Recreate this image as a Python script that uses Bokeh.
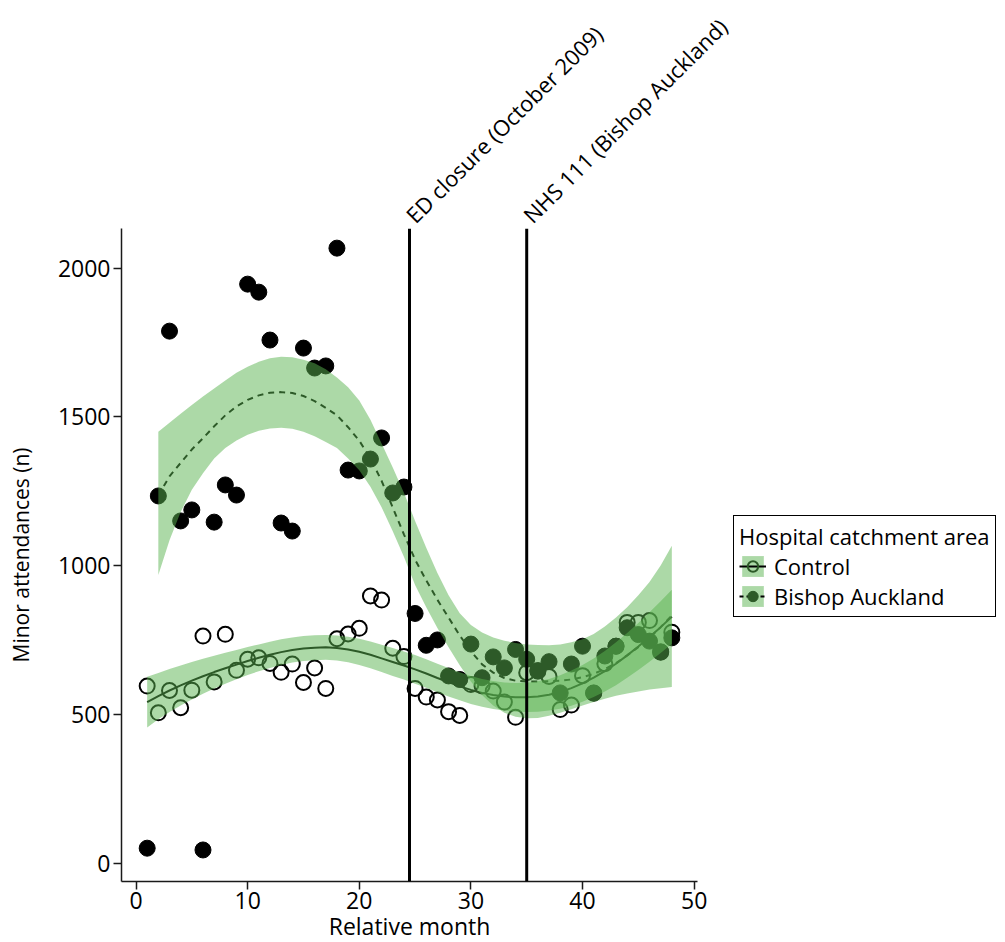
import math
from bokeh.plotting import figure
from bokeh.layouts import column
from bokeh.models import Range1d, Span, Label, Legend, LegendItem, FixedTicker
from bokeh.embed import file_html
from bokeh.resources import INLINE

FONT = "Open Sans"

# ---------------- data ----------------
months = list(range(1, 49))

control_obs = [595, 505, 580, 522, 581, 763, 609, 769, 648, 685, 690, 671,
               641, 669, 607, 656, 587, 754, 770, 789, 898, 884, 722, 694,
               587, 558, 548, 509, 496, 600, 595, 578, 541, 490, 640, 645,
               627, 516, 531, 630, 572, 670, 729, 809, 809, 815, 709, 776]

bishop_obs = [50, 1234, 1788, 1150, 1187, 44, 1146, 1271, 1237, 1946, 1919, 1758,
              1143, 1116, 1731, 1664, 1671, 2067, 1321, 1318, 1358, 1429, 1244, 1264,
              839, 732, 750, 629, 617, 736, 623, 693, 656, 718, 685, 647,
              677, 572, 669, 729, 571, 696, 729, 791, 768, 746, 710, 757]

# fitted curve and confidence band, control (months 1..48)
control_fit = [541, 561, 580, 597, 613, 628, 642, 655, 667, 679, 690, 700,
               709, 716, 721, 724, 725, 723, 718, 710, 700, 688, 676, 664,
               651, 637, 622, 608, 594, 582, 572, 565, 560, 557, 557, 560,
               566, 575, 588, 604, 623, 645, 670, 698, 728, 760, 793, 828]
control_lo = [456, 483, 508, 530, 550, 569, 587, 603, 618, 632, 645, 656,
              666, 674, 679, 682, 683, 681, 675, 666, 655, 642, 629, 617,
              603, 589, 574, 560, 547, 535, 525, 518, 513, 509, 508, 509,
              513, 519, 529, 542, 558, 577, 598, 623, 649, 677, 706, 737]
control_hi = [626, 639, 652, 664, 676, 687, 697, 707, 716, 726, 735, 744,
              752, 758, 763, 766, 767, 765, 761, 754, 745, 734, 723, 711,
              699, 685, 670, 656, 641, 629, 619, 612, 607, 605, 606, 611,
              619, 631, 647, 666, 688, 713, 742, 773, 807, 843, 880, 919]

# fitted curve and confidence band, Bishop Auckland (months 2..48)
bishop_months = list(range(2, 49))
bishop_fit = [1235, 1300, 1345, 1390, 1428, 1468, 1505, 1535, 1557, 1572, 1581,
              1583, 1580, 1570, 1553, 1530, 1505, 1465, 1420, 1360, 1285, 1195,
              1105, 1020, 950, 885, 825, 765, 712, 668, 640, 622, 613, 610,
              610, 611, 613, 617, 625, 636, 652, 672, 698, 726, 757, 793, 832]
bishop_lo = [968, 1085, 1180, 1255, 1310, 1360, 1395, 1420, 1440, 1453, 1461,
             1463, 1460, 1450, 1435, 1415, 1395, 1360, 1320, 1265, 1196, 1115,
             1030, 935, 860, 790, 725, 665, 610, 565, 530, 505, 492, 487,
             488, 495, 505, 517, 530, 541, 552, 562, 570, 577, 583, 588, 592]
bishop_hi = [1450, 1480, 1510, 1540, 1568, 1595, 1622, 1648, 1668, 1685, 1697,
             1702, 1700, 1692, 1680, 1660, 1632, 1599, 1555, 1490, 1410, 1330,
             1245, 1150, 1060, 975, 900, 840, 800, 775, 758, 747, 740, 735,
             733, 732, 735, 742, 752, 770, 795, 825, 860, 900, 945, 1000, 1067]

events = [24.5, 35]
event_labels = ["ED closure (October 2009)", "NHS 111 (Bishop Auckland)"]

x_ticks = [0, 10, 20, 30, 40, 50]
y_ticks = [0, 500, 1000, 1500, 2000]

# ---------------- styling ----------------
RIBBON = "#5ab450"
RIBBON_ALPHA = 0.5
DARK = "#2d5a28"

X0, X1 = -1.3, 50.3
FRAME_W, FRAME_H = 576, 653
LEFT, TOP, BOTTOM, RIGHT = 121, 228, 61, 308
PX_PER_UNIT = FRAME_W / (X1 - X0)

# ---- strip above the plot holding the rotated event labels ----
top_w = FRAME_W + RIGHT
top = figure(frame_width=top_w, frame_height=TOP,
             x_range=Range1d(X0, X0 + top_w / PX_PER_UNIT),
             y_range=Range1d(0, TOP),
             output_backend="svg", toolbar_location=None,
             x_axis_location=None, y_axis_location=None,
             min_border_left=LEFT, min_border_right=0,
             min_border_top=0, min_border_bottom=0)
top.outline_line_color = None
top.xgrid.visible = False
top.ygrid.visible = False
for ev, lab in zip(events, event_labels):
    top.add_layout(Label(x=ev, y=0, y_offset=10, text=lab, angle=math.pi / 4,
                         text_align="left", text_baseline="alphabetic",
                         text_font=FONT, text_font_size="22px",
                         text_color="black"))

# ---- main plot ----
p = figure(frame_width=FRAME_W, frame_height=FRAME_H,
           x_range=Range1d(X0, X1), y_range=Range1d(-62, 2133),
           output_backend="svg", toolbar_location=None,
           min_border_left=LEFT, min_border_top=0, min_border_bottom=BOTTOM,
           min_border_right=RIGHT)
p.outline_line_color = None
p.xgrid.visible = False
p.ygrid.visible = False
p.background_fill_color = "white"
p.border_fill_color = "white"

# raw points
p.scatter(months, control_obs, marker="circle", size=15, fill_color=None,
          line_color="black", line_width=2)
p.scatter(months, bishop_obs, marker="circle", size=16, fill_color="black",
          line_color="black", line_width=1)

# fitted lines (drawn in black, tinted green by the ribbons on top)
p.line(months, control_fit, line_color="black", line_width=2)
p.line(bishop_months, bishop_fit, line_color="black", line_width=2,
       line_dash="6 5")

# ribbons on top
p.varea(x=months, y1=control_lo, y2=control_hi, fill_color=RIBBON,
        fill_alpha=RIBBON_ALPHA)
p.varea(x=bishop_months, y1=bishop_lo, y2=bishop_hi, fill_color=RIBBON,
        fill_alpha=RIBBON_ALPHA)

# event lines
for ev in events:
    p.add_layout(Span(location=ev, dimension="height", line_color="black",
                      line_width=3))

# axes
for ax in (p.xaxis[0], p.yaxis[0]):
    ax.axis_line_color = "#1a1a1a"
    ax.axis_line_width = 1.5
    ax.major_tick_line_color = "#1a1a1a"
    ax.major_tick_line_width = 1.5
    ax.major_tick_out = 8
    ax.major_tick_in = 0
    ax.minor_tick_out = 0
    ax.minor_tick_in = 0
    ax.major_label_text_font = FONT
    ax.major_label_text_font_size = "23px"
    ax.major_label_text_color = "black"

p.xaxis.ticker = FixedTicker(ticks=x_ticks)
p.yaxis.ticker = FixedTicker(ticks=y_ticks)
p.yaxis.major_label_standoff = 3
p.xaxis.major_label_standoff = 2

p.yaxis.axis_label = "Minor attendances (n)"
p.yaxis.axis_label_text_font = FONT
p.yaxis.axis_label_text_font_size = "21px"
p.yaxis.axis_label_text_font_style = "normal"
p.yaxis.axis_label_text_color = "black"
p.yaxis.axis_label_standoff = 20

p.xaxis.axis_label = "Relative month"
p.xaxis.axis_label_text_font = FONT
p.xaxis.axis_label_text_font_size = "23px"
p.xaxis.axis_label_text_font_style = "normal"
p.xaxis.axis_label_text_color = "black"
p.xaxis.axis_label_standoff = -2

# legend (dummy renderers for the keys)
ra = p.varea(x=[-100, -99], y1=[-1000, -1000], y2=[-900, -900],
             fill_color=RIBBON, fill_alpha=RIBBON_ALPHA)
rl1 = p.line([-100, -99], [-1000, -1000], line_color="black", line_width=2)
rc1 = p.scatter([-100], [-1000], marker="circle", size=12, fill_color=None,
                line_color=DARK, line_width=2)
ra2 = p.varea(x=[-100, -99], y1=[-1000, -1000], y2=[-900, -900],
              fill_color=RIBBON, fill_alpha=RIBBON_ALPHA)
rl2 = p.line([-100, -99], [-1000, -1000], line_color="black", line_width=2,
             line_dash="4 3")
rc2 = p.scatter([-100], [-1000], marker="circle", size=12, fill_color=DARK,
                line_color=DARK, line_width=1)

legend = Legend(items=[LegendItem(label="Control", renderers=[ra, rl1, rc1]),
                       LegendItem(label="Bishop Auckland", renderers=[ra2, rl2, rc2])],
                title="Hospital catchment area", location=(36, 264))
legend.title_text_font = FONT
legend.title_text_font_size = "22px"
legend.title_text_font_style = "normal"
legend.title_text_color = "black"
legend.title_standoff = 0
legend.label_text_font = FONT
legend.label_text_font_size = "22px"
legend.label_text_color = "black"
legend.label_standoff = 8
legend.glyph_width = 27
legend.glyph_height = 26
legend.spacing = 0
legend.padding = 5
legend.margin = 0
legend.border_line_color = "black"
legend.border_line_width = 1.5
legend.border_line_alpha = 1
legend.background_fill_color = "white"
legend.background_fill_alpha = 1
p.add_layout(legend, "right")

layout = column(top, p, spacing=0)
open("out.html", "w").write(file_html(layout, INLINE))
